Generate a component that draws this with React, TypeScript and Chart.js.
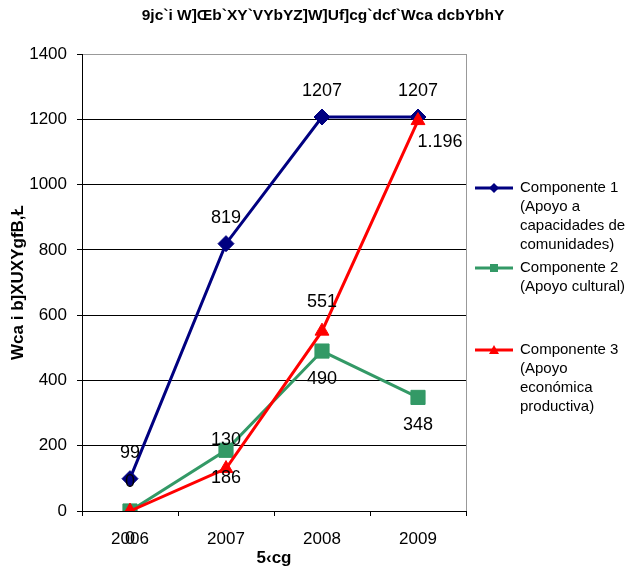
import React, { useEffect, useRef } from "react";
import { Chart, registerables } from "chart.js";

Chart.register(...registerables);

const categories = ["2006", "2007", "2008", "2009"];
const comp1 = [99, 819, 1207, 1207];
const comp2 = [0, 186, 490, 348];
const comp3 = [0, 130, 551, 1196];
const comp1Labels = ["99", "819", "1207", "1207"];
const comp2Labels = ["0", "186", "490", "348"];
const comp3Labels = ["0", "130", "551", "1.196"];
const seriesNames = [
  ["Componente 1", "(Apoyo a", "capacidades de", "comunidades)"],
  ["Componente 2", "(Apoyo cultural)"],
  ["Componente 3", "(Apoyo", "económica", "productiva)"],
];
const yTicks = [0, 200, 400, 600, 800, 1000, 1200, 1400];
const titleText = "9jc`i W]Œb`XY`VYbYZ]W]Uf]cg`dcf`Wca dcbYbhY";
const yTitle = "Wca i b]XUXYgfB,Ł";
const xTitle = "5‹cg";

const FONT = '"Liberation Sans", Arial, sans-serif';
const BLUE = "#000080";
const GREEN = "#339966";
const RED = "#FF0000";

const allLabels = [comp1Labels, comp2Labels, comp3Labels];

const drawMarker = (ctx: CanvasRenderingContext2D, style: string, x: number, y: number, r: number, color: string) => {
  ctx.save();
  ctx.fillStyle = color;
  ctx.beginPath();
  if (style === "diamond") {
    ctx.moveTo(x, y - r);
    ctx.lineTo(x + r, y);
    ctx.lineTo(x, y + r);
    ctx.lineTo(x - r, y);
  } else if (style === "square") {
    ctx.rect(x - r, y - r, 2 * r, 2 * r);
  } else {
    ctx.moveTo(x, y - r);
    ctx.lineTo(x + r, y + r * 0.8);
    ctx.lineTo(x - r, y + r * 0.8);
  }
  ctx.closePath();
  ctx.fill();
  ctx.restore();
};

const customPlugin = {
  id: "custom",
  afterDatasetsDraw(chart: any) {
    const ctx = chart.ctx as CanvasRenderingContext2D;
    const area = chart.chartArea;
    // right border
    ctx.save();
    ctx.strokeStyle = "#999999";
    ctx.lineWidth = 1;
    ctx.beginPath();
    ctx.moveTo(Math.round(area.right) + 0.5, area.top);
    ctx.lineTo(Math.round(area.right) + 0.5, area.bottom);
    ctx.stroke();
    ctx.restore();

    // data labels
    ctx.save();
    ctx.font = `18px ${FONT}`;
    ctx.fillStyle = "#000";
    ctx.textAlign = "center";
    ctx.textBaseline = "middle";
    chart.data.datasets.forEach((ds: any, di: number) => {
      const meta = chart.getDatasetMeta(di);
      meta.data.forEach((pt: any, i: number) => {
        let dx = 0;
        let dy = 0;
        if (di === 0) dy = -26;
        else if (di === 1) dy = 28;
        else {
          if (i === meta.data.length - 1) {
            dx = 22;
            dy = 21;
          } else dy = -29;
        }
        ctx.fillText(allLabels[di][i], pt.x + dx, pt.y + dy);
      });
    });
    ctx.restore();

    // titles
    ctx.save();
    ctx.fillStyle = "#000";
    ctx.textAlign = "center";
    ctx.textBaseline = "middle";
    ctx.font = `bold 15.5px ${FONT}`;
    ctx.fillText(titleText, 323, 16);
    ctx.font = `bold 17px ${FONT}`;
    ctx.fillText(xTitle, (area.left + area.right) / 2, 558);
    ctx.translate(18, (area.top + area.bottom) / 2);
    ctx.rotate(-Math.PI / 2);
    ctx.fillText(yTitle, 0, 0);
    ctx.restore();

    // legend
    const colors = [BLUE, GREEN, RED];
    const styles = ["diamond", "square", "triangle"];
    const radii = [5, 4, 5];
    const starts = [188, 268, 350];
    ctx.save();
    ctx.font = `15px ${FONT}`;
    ctx.textAlign = "left";
    ctx.textBaseline = "middle";
    seriesNames.forEach((lines, k) => {
      const y0 = starts[k];
      ctx.strokeStyle = colors[k];
      ctx.lineWidth = 3;
      ctx.beginPath();
      ctx.moveTo(475, y0);
      ctx.lineTo(513, y0);
      ctx.stroke();
      drawMarker(ctx, styles[k], 494, y0, radii[k], colors[k]);
      ctx.fillStyle = "#000";
      lines.forEach((t, j) => {
        ctx.fillText(t, 520, y0 + j * 18.8);
      });
    });
    ctx.restore();
  },
};

export default function App() {
  const ref = useRef<HTMLCanvasElement | null>(null);
  useEffect(() => {
    if (!ref.current) return;
    const chart = new Chart(ref.current, {
      type: "line",
      data: {
        labels: categories,
        datasets: [
          {
            label: seriesNames[0].join(" "),
            data: comp1,
            borderColor: BLUE,
            backgroundColor: BLUE,
            borderWidth: 3,
            pointStyle: "rectRot",
            pointRadius: 8,
            pointBorderWidth: 1,
            order: 3,
            tension: 0,
          },
          {
            label: seriesNames[1].join(" "),
            data: comp2,
            borderColor: GREEN,
            backgroundColor: GREEN,
            borderWidth: 3,
            pointStyle: "rect",
            pointRadius: 10,
            pointBorderWidth: 1,
            order: 2,
            tension: 0,
          },
          {
            label: seriesNames[2].join(" "),
            data: comp3,
            borderColor: RED,
            backgroundColor: RED,
            borderWidth: 3,
            pointStyle: "triangle",
            pointRadius: 8,
            pointBorderWidth: 1,
            order: 1,
            tension: 0,
          },
        ],
      },
      options: {
        animation: false,
        responsive: false,
        maintainAspectRatio: false,
        layout: { padding: { top: 54, right: 168, left: 0, bottom: 0 } },
        plugins: {
          legend: { display: false },
          title: { display: false },
          tooltip: { enabled: false },
        },
        scales: {
          x: {
            type: "category",
            offset: true,
            afterFit: (s: any) => {
              s.height = 58;
            },
            grid: {
              display: true,
              offset: true,
              drawOnChartArea: false,
              drawTicks: true,
              tickLength: 5,
              color: "#000",
              tickColor: "#000",
            },
            border: { display: true, color: "#000", width: 1 },
            ticks: {
              color: "#000",
              font: { family: FONT, size: 17 },
              padding: 13,
              maxRotation: 0,
            },
          },
          y: {
            min: 0,
            max: 1400,
            afterFit: (s: any) => {
              s.width = 82;
            },
            afterBuildTicks: (s: any) => {
              s.ticks = yTicks.map((v) => ({ value: v }));
            },
            grid: {
              color: (c: any) => (c.tick && c.tick.value === 1400 ? "#999999" : "#000000"),
              tickColor: "#000",
              tickLength: 5,
              lineWidth: 1,
            },
            border: { display: true, color: "#000", width: 1 },
            ticks: {
              color: "#000",
              font: { family: FONT, size: 17 },
              padding: 10,
              callback: (v: any) => String(v),
            },
          },
        },
      },
      plugins: [customPlugin],
    });
    return () => chart.destroy();
  }, []);
  return (
    <div style={{ position: "fixed", left: 0, top: 0, width: 634, height: 569, background: "#fff" }}>
      <canvas ref={ref} width={634} height={569} style={{ width: 634, height: 569 }} />
    </div>
  );
}
